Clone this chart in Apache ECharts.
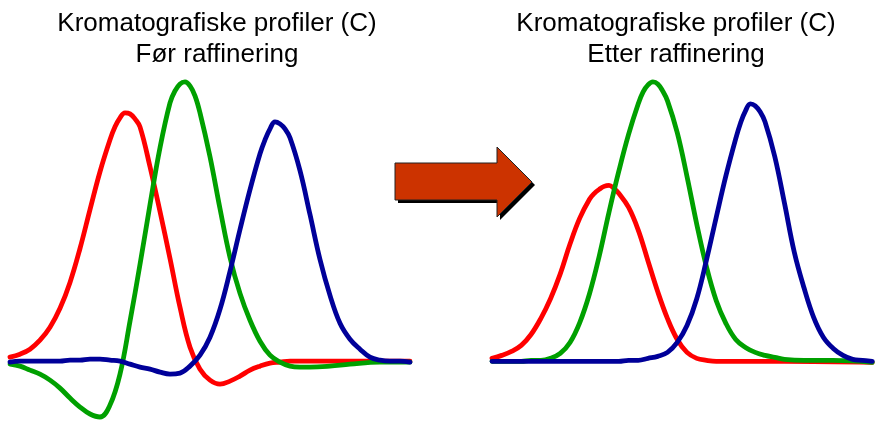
<!DOCTYPE html>
<html><head><meta charset="utf-8">
<script src="https://cdn.jsdelivr.net/npm/echarts@6/dist/echarts.min.js"></script>
<style>html,body{margin:0;padding:0;background:#fff}#c{width:882px;height:421px}</style>
</head><body><div id="c"></div>
<script>
// Titles
const titleLine1 = 'Kromatografiske profiler (C)';
const titleBefore = 'Før raffinering';
const titleAfter = 'Etter raffinering';

// Before refinement: [retention, signal]
const beforeRed = [[0,4],[10,7],[20,12],[30,21],[40,34],[50,53],[60,79],[70,113],[80,152],[90,190],[100,222],[105,235],[110,244],[115,249],[120,248],[125,243],[130,235],[140,195],[150,150],[160,103],[170,54],[180,14],[190,-8],[200,-19],[210,-23],[220,-20],[230,-15],[240,-9],[250,-5],[260,-2],[270,-1],[280,0],[340,0],[400,0]];
const beforeGreen = [[0,-3],[10,-5],[20,-9],[30,-13],[40,-19],[50,-27],[60,-37],[70,-46],[80,-53],[90,-56],[100,-44],[110,-13],[120,40],[130,97],[140,157],[150,214],[160,259],[165,271],[170,278],[175,280],[180,276],[185,266],[190,249],[200,205],[210,153],[220,104],[230,68],[240,41],[250,20],[260,6],[270,-1],[280,-5],[290,-6],[300,-6],[320,-5],[340,-3],[370,-1],[400,-1]];
const beforeBlue = [[0,-1],[10,0],[20,0],[30,0],[40,0],[50,0],[60,1],[70,1],[80,2],[90,2],[100,1],[110,0],[120,-3],[130,-6],[140,-8],[150,-11],[160,-13],[170,-12],[180,-5],[190,6],[200,24],[210,52],[220,90],[230,132],[240,172],[250,208],[255,222],[260,233],[265,240],[270,238],[275,233],[280,224],[290,191],[300,147],[310,102],[320,66],[330,38],[340,22],[350,12],[360,4],[370,1],[380,0],[390,0],[400,-1]];

// After refinement
const afterRed = [[0,3],[10,6],[20,10],[30,16],[40,27],[50,43],[60,63],[70,88],[80,118],[90,144],[100,163],[105,169],[110,173],[115,176],[120,177],[125,174],[130,169],[140,155],[150,132],[160,101],[170,70],[180,43],[190,22],[200,9],[210,3],[220,1],[230,0],[300,0],[390,-1]];
const afterGreen = [[0,0],[10,0],[20,0],[30,0],[40,1],[50,1],[60,3],[70,8],[80,19],[90,39],[100,68],[110,106],[120,150],[130,191],[140,228],[150,259],[155,271],[160,278],[165,281],[170,279],[175,272],[180,262],[190,230],[200,186],[210,138],[220,95],[230,61],[240,38],[250,22],[260,14],[270,9],[280,6],[290,4],[300,2],[320,1],[350,1],[390,-1]];
const afterBlue = [[0,0],[40,0],[80,0],[120,0],[130,0],[140,1],[150,1],[160,3],[170,5],[180,9],[190,19],[200,36],[210,63],[220,102],[230,145],[240,187],[250,224],[255,240],[260,252],[265,259],[270,257],[275,251],[280,241],[290,206],[300,159],[310,110],[320,74],[330,44],[340,24],[350,13],[360,6],[370,2],[380,1],[390,0]];

const RED = '#FF0000', GREEN = '#00A000', BLUE = '#000099';
const FONT = '26px "Liberation Sans", Arial, sans-serif';

const chart = echarts.init(document.getElementById('c'), null, {renderer: 'canvas'});

function mkSeries(data, color, idx) {
  return {
    type: 'line', data: data, xAxisIndex: idx, yAxisIndex: idx,
    smooth: 0.4, symbol: 'none', clip: false, silent: true,
    lineStyle: {width: 4.8, color: color, cap: 'round', join: 'round'}
  };
}
function mkAxisX(i) { return {type: 'value', gridIndex: i, min: 0, max: 400, show: false}; }
function mkAxisY(i) { return {type: 'value', gridIndex: i, min: -60, max: 290, show: false}; }

function textEl(x, y, t) {
  return {type: 'text', x: x, y: y, style: {text: t, font: FONT, fill: '#000', align: 'center', verticalAlign: 'middle'}};
}

const arrowPts = [[395,163],[497,163],[497,147],[532,182],[497,217],[497,200],[395,200]];

chart.setOption({
  animation: false,
  backgroundColor: '#fff',
  grid: [
    {left: 10, top: 72, width: 400, height: 350},
    {left: 492, top: 73, width: 400, height: 350}
  ],
  xAxis: [mkAxisX(0), mkAxisX(1)],
  yAxis: [mkAxisY(0), mkAxisY(1)],
  series: [
    mkSeries(beforeRed, RED, 0), mkSeries(beforeGreen, GREEN, 0), mkSeries(beforeBlue, BLUE, 0),
    mkSeries(afterRed, RED, 1), mkSeries(afterGreen, GREEN, 1), mkSeries(afterBlue, BLUE, 1)
  ],
  graphic: [
    textEl(217, 24, titleLine1), textEl(217, 55, titleBefore),
    textEl(676, 24, titleLine1), textEl(676, 55, titleAfter),
    {type: 'polygon', x: 3, y: 3, shape: {points: arrowPts}, style: {fill: '#000'}},
    {type: 'polygon', shape: {points: arrowPts}, style: {fill: '#CC3300', stroke: '#222', lineWidth: 1}}
  ]
});
</script>
</body></html>
